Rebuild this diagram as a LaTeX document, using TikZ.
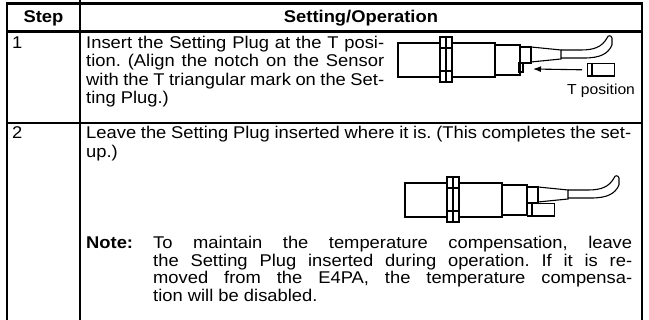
\documentclass[tikz,border=0pt]{standalone}
\usepackage{fontspec}
\setmainfont{Liberation Sans}[FakeStretch=1.08]
\usetikzlibrary{arrows.meta}
\frenchspacing
\begin{document}
\begin{tikzpicture}[x=1pt,y=-1pt,
  border/.style={line width=2.5pt},
  inner/.style={line width=1.4pt},
  part/.style={line width=1.1pt},
  txt/.style={anchor=base west, inner sep=0pt, font=\fontsize{17}{18.5}\selectfont\frenchspacing},
  hdr/.style={anchor=base, inner sep=0pt, font=\fontsize{17}{18.5}\selectfont\bfseries},
  small/.style={anchor=base, inner sep=0pt, font=\fontsize{14.5}{16}\selectfont},
  plugbox/.style={draw, part, fill=white, inner sep=0pt, minimum width=27pt, minimum height=12.5pt, anchor=north west},
]
\useasboundingbox (0,0) rectangle (649,320);
% ---------- table ----------
\draw[border] (7,320) -- (7,3.5) -- (642,3.5) -- (642,320);
\draw[border] (7,31.5) -- (642,31.5);
\draw[inner] (80,0) -- (80,320);
\draw[inner] (7,123) -- (642,123);
% ---------- header ----------
\node[hdr] (hstep) at (43.5,23) {Step};
\node[hdr] (hset) at (361,23) {Setting/Operation};
% ---------- row 1 ----------
\node[txt] (s1) at (12,48.5) {1};
\node[txt] (r1a) at (86,48.5) {\makebox[298pt][s]{Insert the Setting Plug at the T posi-}};
\node[txt] (r1b) at (86,67) {\makebox[298pt][s]{tion. (Align the notch on the Sensor}};
\node[txt] (r1c) at (86,85.5) {\makebox[298pt][s]{with the T triangular mark on the Set-}};
\node[txt] (r1d) at (86,104) {ting Plug.)};
% ---------- row 2 ----------
\node[txt] (s2) at (12,139) {2};
\node[txt] (r2a) at (86,139) {\makebox[545pt][s]{Leave the Setting Plug inserted where it is. (This completes the set-}};
\node[txt] (r2b) at (86,157.5) {up.)};
\node[txt,font=\fontsize{17}{18.5}\selectfont\bfseries] (note) at (86,248.5) {Note:};
\node[txt] (na) at (153,248.5) {\makebox[479pt][s]{To maintain the temperature compensation, leave}};
\node[txt] (nb) at (153,266.2) {\makebox[479pt][s]{the Setting Plug inserted during operation. If it is re-}};
\node[txt] (nc) at (153,284) {\makebox[479pt][s]{moved from the E4PA, the temperature compensa-}};
\node[txt] (nd) at (153,301.7) {tion will be disabled.};
% ---------- sensor (common parts) ----------
\foreach \dx/\dy in {0/0, 7/140}{
\begin{scope}[shift={(\dx,\dy)}]
  \draw[part] (398,43) rectangle (495,77);
  \draw[part,fill=white] (440,37) rectangle (452,82);
  \draw[part] (446,37) -- (446,82);
  \draw[part] (440,48) -- (452,48);
  \draw[part] (440,71) -- (452,71);
  \draw[part] (495,45) rectangle (520,75);
  \draw[part] (520,47) rectangle (531,63);
  \draw[part] (531,47) -- (561,50) -- (561,59) -- (531,62);
  \draw[part] (561,50) -- (581,50) .. controls (594,50) and (602,47) .. (607,38);
  \draw[part] (561,58) -- (584,58) .. controls (600,58) and (608,54) .. (612,45);
  \draw[part] (607,38) .. controls (608,35) and (611,35) .. (612,38) .. controls (611,40) and (613,42) .. (612,45);
\end{scope}
}
% ---------- sensor 1: notch, arrow, plug ----------
\draw[part] (519,63) rectangle (523,72);
\node[plugbox] (plug1) at (587,63) {};
\draw[part] ([xshift=5pt]plug1.north west) -- ([xshift=5pt]plug1.south west);
\coordinate (aend) at (533,69);
\draw[part,-{Latex[length=8pt,width=6pt]}] ([xshift=-5pt]plug1.west) -- (aend);
\node[small] (tpos) at (601,95) {T position};
% ---------- sensor 2: plug inserted ----------
\node[plugbox] (plug2) at (527,203) {};
\draw[part] ([xshift=5pt]plug2.north west) -- ([xshift=5pt]plug2.south west);
\end{tikzpicture}
\end{document}
